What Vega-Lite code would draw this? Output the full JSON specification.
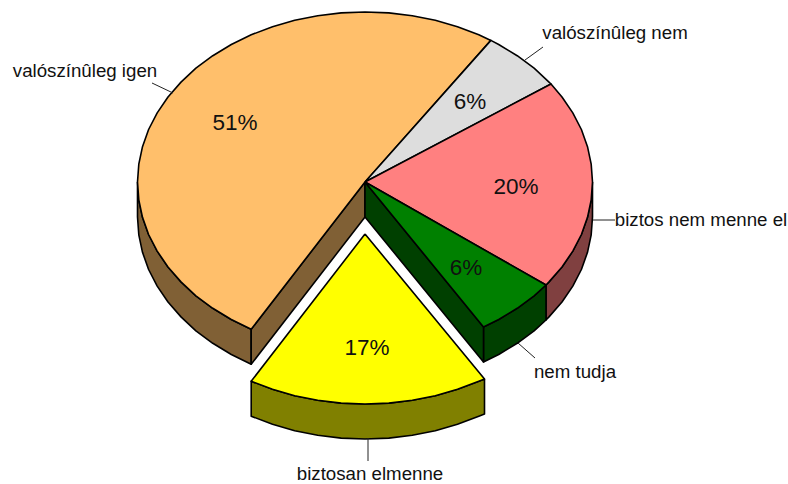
{"$schema":"https://vega.github.io/schema/vega-lite/v6.json","width":788,"height":484,"padding":0,"autosize":{"type":"none"},"background":"white","config":{"view":{"stroke":null}},
"datasets":{"poly":[
{"s":"igen_oldal","i":0,"x":-227.5,"y":0},{"s":"igen_oldal","i":1,"x":-226.2,"y":-17.8},{"s":"igen_oldal","i":2,"x":-222.5,"y":-35.3},{"s":"igen_oldal","i":3,"x":-216.4,"y":-52.5},{"s":"igen_oldal","i":4,"x":-207.8,"y":-69.1},{"s":"igen_oldal","i":5,"x":-197,"y":-85},{"s":"igen_oldal","i":6,"x":-184,"y":-99.9},{"s":"igen_oldal","i":7,"x":-169.1,"y":-113.8},{"s":"igen_oldal","i":8,"x":-152.2,"y":-126.3},{"s":"igen_oldal","i":9,"x":-133.7,"y":-137.5},{"s":"igen_oldal","i":10,"x":-113.8,"y":-147.2},{"s":"igen_oldal","i":11,"x":-113.8,"y":-182.2},{"s":"igen_oldal","i":12,"x":-133.7,"y":-172.5},{"s":"igen_oldal","i":13,"x":-152.2,"y":-161.3},{"s":"igen_oldal","i":14,"x":-169.1,"y":-148.8},{"s":"igen_oldal","i":15,"x":-184,"y":-134.9},{"s":"igen_oldal","i":16,"x":-197,"y":-120},{"s":"igen_oldal","i":17,"x":-207.8,"y":-104.1},{"s":"igen_oldal","i":18,"x":-216.4,"y":-87.5},{"s":"igen_oldal","i":19,"x":-222.5,"y":-70.3},{"s":"igen_oldal","i":20,"x":-226.2,"y":-52.8},{"s":"igen_oldal","i":21,"x":-227.5,"y":-35},{"s":"igen_oldal","i":22,"x":-227.5,"y":0},
{"s":"igen_vagas","i":0,"x":0,"y":0},{"s":"igen_vagas","i":1,"x":-113.8,"y":-147.2},{"s":"igen_vagas","i":2,"x":-113.8,"y":-182.2},{"s":"igen_vagas","i":3,"x":0,"y":-35},{"s":"igen_vagas","i":4,"x":0,"y":0},
{"s":"biztos_oldal","i":0,"x":227.5,"y":0},{"s":"biztos_oldal","i":1,"x":226.2,"y":-17.8},{"s":"biztos_oldal","i":2,"x":222.5,"y":-35.3},{"s":"biztos_oldal","i":3,"x":216.4,"y":-52.5},{"s":"biztos_oldal","i":4,"x":207.8,"y":-69.1},{"s":"biztos_oldal","i":5,"x":197,"y":-85},{"s":"biztos_oldal","i":6,"x":184,"y":-99.9},{"s":"biztos_oldal","i":7,"x":181,"y":-103},{"s":"biztos_oldal","i":8,"x":181,"y":-138},{"s":"biztos_oldal","i":9,"x":184,"y":-134.9},{"s":"biztos_oldal","i":10,"x":197,"y":-120},{"s":"biztos_oldal","i":11,"x":207.8,"y":-104.1},{"s":"biztos_oldal","i":12,"x":216.4,"y":-87.5},{"s":"biztos_oldal","i":13,"x":222.5,"y":-70.3},{"s":"biztos_oldal","i":14,"x":226.2,"y":-52.8},{"s":"biztos_oldal","i":15,"x":227.5,"y":-35},{"s":"biztos_oldal","i":16,"x":227.5,"y":0},
{"s":"tudja_oldal","i":0,"x":181,"y":-103},{"s":"tudja_oldal","i":1,"x":169.1,"y":-113.8},{"s":"tudja_oldal","i":2,"x":152.2,"y":-126.3},{"s":"tudja_oldal","i":3,"x":133.7,"y":-137.5},{"s":"tudja_oldal","i":4,"x":118.5,"y":-145},{"s":"tudja_oldal","i":5,"x":118.5,"y":-180},{"s":"tudja_oldal","i":6,"x":133.7,"y":-172.5},{"s":"tudja_oldal","i":7,"x":152.2,"y":-161.3},{"s":"tudja_oldal","i":8,"x":169.1,"y":-148.8},{"s":"tudja_oldal","i":9,"x":181,"y":-138},{"s":"tudja_oldal","i":10,"x":181,"y":-103},
{"s":"tudja_vagas","i":0,"x":0,"y":0},{"s":"tudja_vagas","i":1,"x":118.5,"y":-145},{"s":"tudja_vagas","i":2,"x":118.5,"y":-180},{"s":"tudja_vagas","i":3,"x":0,"y":-35},{"s":"tudja_vagas","i":4,"x":0,"y":0},
{"s":"elmenne_oldal","i":0,"x":119.5,"y":-197},{"s":"elmenne_oldal","i":1,"x":113.8,"y":-199.2},{"s":"elmenne_oldal","i":2,"x":92.5,"y":-207.3},{"s":"elmenne_oldal","i":3,"x":70.3,"y":-213.7},{"s":"elmenne_oldal","i":4,"x":47.3,"y":-218.3},{"s":"elmenne_oldal","i":5,"x":23.8,"y":-221.1},{"s":"elmenne_oldal","i":6,"x":0,"y":-222},{"s":"elmenne_oldal","i":7,"x":-23.8,"y":-221.1},{"s":"elmenne_oldal","i":8,"x":-47.3,"y":-218.3},{"s":"elmenne_oldal","i":9,"x":-70.3,"y":-213.7},{"s":"elmenne_oldal","i":10,"x":-92.5,"y":-207.3},{"s":"elmenne_oldal","i":11,"x":-113.8,"y":-199.2},{"s":"elmenne_oldal","i":12,"x":-113.8,"y":-234.2},{"s":"elmenne_oldal","i":13,"x":-92.5,"y":-242.3},{"s":"elmenne_oldal","i":14,"x":-70.3,"y":-248.7},{"s":"elmenne_oldal","i":15,"x":-47.3,"y":-253.3},{"s":"elmenne_oldal","i":16,"x":-23.8,"y":-256.1},{"s":"elmenne_oldal","i":17,"x":0,"y":-257},{"s":"elmenne_oldal","i":18,"x":23.8,"y":-256.1},{"s":"elmenne_oldal","i":19,"x":47.3,"y":-253.3},{"s":"elmenne_oldal","i":20,"x":70.3,"y":-248.7},{"s":"elmenne_oldal","i":21,"x":92.5,"y":-242.3},{"s":"elmenne_oldal","i":22,"x":113.8,"y":-234.2},{"s":"elmenne_oldal","i":23,"x":119.5,"y":-232},{"s":"elmenne_oldal","i":24,"x":119.5,"y":-197},
{"s":"igen","i":0,"x":0,"y":0},{"s":"igen","i":1,"x":125.9,"y":141.6},{"s":"igen","i":2,"x":113.8,"y":147.2},{"s":"igen","i":3,"x":92.5,"y":155.3},{"s":"igen","i":4,"x":70.3,"y":161.7},{"s":"igen","i":5,"x":47.3,"y":166.3},{"s":"igen","i":6,"x":23.8,"y":169.1},{"s":"igen","i":7,"x":0,"y":170},{"s":"igen","i":8,"x":-23.8,"y":169.1},{"s":"igen","i":9,"x":-47.3,"y":166.3},{"s":"igen","i":10,"x":-70.3,"y":161.7},{"s":"igen","i":11,"x":-92.5,"y":155.3},{"s":"igen","i":12,"x":-113.8,"y":147.2},{"s":"igen","i":13,"x":-133.7,"y":137.5},{"s":"igen","i":14,"x":-152.2,"y":126.3},{"s":"igen","i":15,"x":-169.1,"y":113.8},{"s":"igen","i":16,"x":-184,"y":99.9},{"s":"igen","i":17,"x":-197,"y":85},{"s":"igen","i":18,"x":-207.8,"y":69.1},{"s":"igen","i":19,"x":-216.4,"y":52.5},{"s":"igen","i":20,"x":-222.5,"y":35.3},{"s":"igen","i":21,"x":-226.2,"y":17.8},{"s":"igen","i":22,"x":-227.5,"y":0},{"s":"igen","i":23,"x":-226.2,"y":-17.8},{"s":"igen","i":24,"x":-222.5,"y":-35.3},{"s":"igen","i":25,"x":-216.4,"y":-52.5},{"s":"igen","i":26,"x":-207.8,"y":-69.1},{"s":"igen","i":27,"x":-197,"y":-85},{"s":"igen","i":28,"x":-184,"y":-99.9},{"s":"igen","i":29,"x":-169.1,"y":-113.8},{"s":"igen","i":30,"x":-152.2,"y":-126.3},{"s":"igen","i":31,"x":-133.7,"y":-137.5},{"s":"igen","i":32,"x":-113.8,"y":-147.2},{"s":"igen","i":33,"x":0,"y":0},
{"s":"nem","i":0,"x":0,"y":0},{"s":"nem","i":1,"x":125.9,"y":141.6},{"s":"nem","i":2,"x":133.7,"y":137.5},{"s":"nem","i":3,"x":152.2,"y":126.3},{"s":"nem","i":4,"x":169.1,"y":113.8},{"s":"nem","i":5,"x":184,"y":99.9},{"s":"nem","i":6,"x":186,"y":98},{"s":"nem","i":7,"x":0,"y":0},
{"s":"biztos","i":0,"x":0,"y":0},{"s":"biztos","i":1,"x":186,"y":98},{"s":"biztos","i":2,"x":197,"y":85},{"s":"biztos","i":3,"x":207.8,"y":69.1},{"s":"biztos","i":4,"x":216.4,"y":52.5},{"s":"biztos","i":5,"x":222.5,"y":35.3},{"s":"biztos","i":6,"x":226.2,"y":17.8},{"s":"biztos","i":7,"x":227.5,"y":0},{"s":"biztos","i":8,"x":226.2,"y":-17.8},{"s":"biztos","i":9,"x":222.5,"y":-35.3},{"s":"biztos","i":10,"x":216.4,"y":-52.5},{"s":"biztos","i":11,"x":207.8,"y":-69.1},{"s":"biztos","i":12,"x":197,"y":-85},{"s":"biztos","i":13,"x":184,"y":-99.9},{"s":"biztos","i":14,"x":181,"y":-103},{"s":"biztos","i":15,"x":0,"y":0},
{"s":"tudja","i":0,"x":0,"y":0},{"s":"tudja","i":1,"x":181,"y":-103},{"s":"tudja","i":2,"x":169.1,"y":-113.8},{"s":"tudja","i":3,"x":152.2,"y":-126.3},{"s":"tudja","i":4,"x":133.7,"y":-137.5},{"s":"tudja","i":5,"x":118.5,"y":-145},{"s":"tudja","i":6,"x":0,"y":0},
{"s":"elmenne","i":0,"x":0,"y":-52},{"s":"elmenne","i":1,"x":119.5,"y":-197},{"s":"elmenne","i":2,"x":113.8,"y":-199.2},{"s":"elmenne","i":3,"x":92.5,"y":-207.3},{"s":"elmenne","i":4,"x":70.3,"y":-213.7},{"s":"elmenne","i":5,"x":47.3,"y":-218.3},{"s":"elmenne","i":6,"x":23.8,"y":-221.1},{"s":"elmenne","i":7,"x":0,"y":-222},{"s":"elmenne","i":8,"x":-23.8,"y":-221.1},{"s":"elmenne","i":9,"x":-47.3,"y":-218.3},{"s":"elmenne","i":10,"x":-70.3,"y":-213.7},{"s":"elmenne","i":11,"x":-92.5,"y":-207.3},{"s":"elmenne","i":12,"x":-113.8,"y":-199.2},{"s":"elmenne","i":13,"x":0,"y":-52}
]},
"layer":[
{"data":{"name":"poly"},"mark":{"type":"line","stroke":"black","strokeWidth":1.6,"strokeJoin":"round"},
"encoding":{"x":{"field":"x","type":"quantitative","scale":{"domain":[-365,423],"nice":false,"zero":false},"axis":null},
"y":{"field":"y","type":"quantitative","scale":{"domain":[-302,182],"nice":false,"zero":false},"axis":null},
"order":{"field":"i","type":"quantitative"},"detail":{"field":"s","type":"nominal"},
"fill":{"field":"s","type":"nominal","legend":null,"scale":{"domain":["igen_oldal","igen_vagas","biztos_oldal","tudja_oldal","tudja_vagas","elmenne_oldal","igen","nem","biztos","tudja","elmenne"],"range":["#806035","#806035","#804040","#004000","#004000","#808000","#FFBF6B","#DDDDDD","#FF8080","#008000","#FFFF00"]}}}},
{"data":{"values":[{"x":-213,"y":99,"x2":-192,"y2":89},{"x":178,"y":135,"x2":160,"y2":122},{"x":228,"y":-38,"x2":250,"y2":-38},{"x":153,"y":-161,"x2":170,"y2":-176},{"x":3,"y":-256,"x2":3,"y2":-279}]},
"mark":{"type":"rule","stroke":"#222222","strokeWidth":1},
"encoding":{"x":{"field":"x","type":"quantitative"},"y":{"field":"y","type":"quantitative"},"x2":{"field":"x2"},"y2":{"field":"y2"}}},
{"data":{"values":[{"x":-280,"y":111,"t":"valószínûleg igen"},{"x":250,"y":149,"t":"valószínûleg nem"},{"x":336,"y":-38,"t":"biztos nem menne el"},{"x":210,"y":-190,"t":"nem tudja"},{"x":5,"y":-292,"t":"biztosan elmenne"}]},
"mark":{"type":"text","font":"Liberation Sans","fontSize":18.7,"fill":"#111111","align":"center","baseline":"middle"},
"encoding":{"x":{"field":"x","type":"quantitative"},"y":{"field":"y","type":"quantitative"},"text":{"field":"t"}}},
{"data":{"values":[{"x":-130,"y":59.5,"t":"51%"},{"x":105,"y":80.5,"t":"6%"},{"x":151,"y":-4.5,"t":"20%"},{"x":101,"y":-85.5,"t":"6%"},{"x":2,"y":-165.5,"t":"17%"}]},
"mark":{"type":"text","font":"Liberation Sans","fontSize":22.5,"fill":"#111111","align":"center","baseline":"middle"},
"encoding":{"x":{"field":"x","type":"quantitative"},"y":{"field":"y","type":"quantitative"},"text":{"field":"t"}}}
]}
